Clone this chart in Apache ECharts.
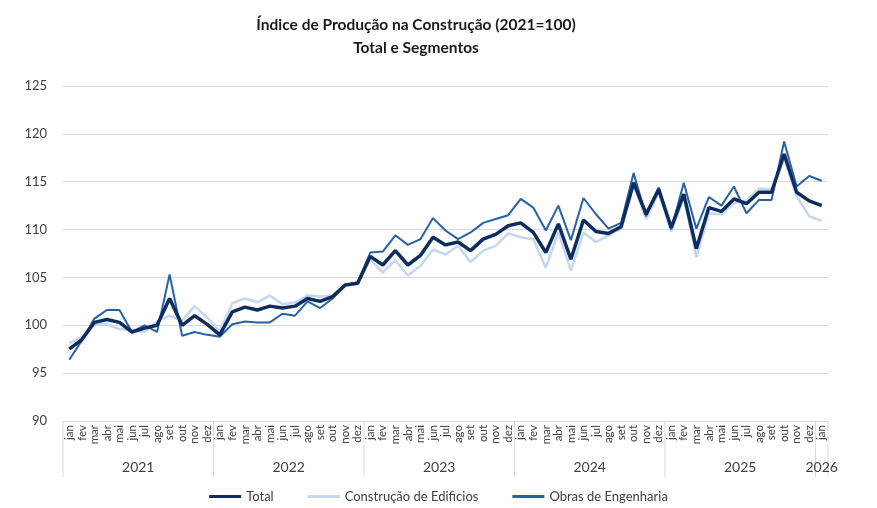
<!DOCTYPE html>
<html>
<head>
<meta charset="utf-8">
<script src="https://cdn.jsdelivr.net/npm/echarts@6/dist/echarts.min.js"></script>
<style>
html,body{margin:0;padding:0;background:#fff;}
#c{width:877px;height:508px;}
</style>
</head>
<body>
<div id="c"></div>
<script>
const monthNames = ['jan','fev','mar','abr','mai','jun','jul','ago','set','out','nov','dez'];
const years = ['2021','2022','2023','2024','2025','2026'];
const categories = [];
years.forEach(function(y){ monthNames.forEach(function(m, k){ if (y !== '2026' || k === 0) categories.push(y + '-' + m); }); });

const total = [
  97.5, 98.5, 100.3, 100.6, 100.3, 99.3, 99.7, 100.0, 102.8, 100.0, 101.0, 100.1,
  99.0, 101.4, 101.9, 101.6, 102.0, 101.8, 102.0, 102.8, 102.5, 103.0, 104.2, 104.4,
  107.2, 106.3, 107.8, 106.3, 107.3, 109.2, 108.4, 108.7, 107.8, 109.0, 109.5, 110.4,
  110.7, 109.7, 107.6, 110.6, 106.9, 111.0, 109.8, 109.6, 110.3, 114.9, 111.6, 114.2,
  110.2, 113.7, 108.0, 112.3, 111.9, 113.2, 112.7, 113.9, 113.9, 117.9, 113.9, 113.0,
  112.5
];
const edificios = [
  98.1, 98.8, 100.1, 100.1, 99.6, 99.5, 99.3, 100.4, 101.0, 100.5, 102.0, 100.8,
  99.4, 102.3, 102.8, 102.4, 103.1, 102.2, 102.4, 103.1, 103.0, 103.1, 104.2, 104.4,
  106.9, 105.5, 106.8, 105.2, 106.2, 107.9, 107.4, 108.3, 106.6, 107.8, 108.3, 109.6,
  109.2, 109.0, 106.0, 109.7, 105.7, 109.7, 108.7, 109.4, 110.1, 114.6, 111.1, 113.9,
  109.8, 113.4, 107.1, 111.7, 111.6, 112.8, 113.0, 114.3, 114.2, 117.4, 113.5, 111.4,
  110.9
];
const engenharia = [
  96.4, 98.4, 100.7, 101.6, 101.6, 99.3, 100.0, 99.3, 105.3, 98.9, 99.3, 99.0,
  98.8, 100.1, 100.4, 100.3, 100.3, 101.2, 101.0, 102.5, 101.8, 102.8, 104.2, 104.5,
  107.6, 107.7, 109.4, 108.4, 109.0, 111.2, 109.9, 109.0, 109.7, 110.7, 111.1, 111.5,
  113.2, 112.3, 109.9, 112.5, 108.9, 113.3, 111.6, 110.1, 110.7, 115.9, 111.4, 114.4,
  110.0, 114.9, 110.1, 113.4, 112.5, 114.5, 111.7, 113.1, 113.1, 119.2, 114.5, 115.6,
  115.1
];
const seriesNames = ['Total', 'Construção de Edificios', 'Obras de Engenharia'];
const yTicks = {min: 90, max: 125, interval: 5};

const FONT = 'Lato, "Open Sans", sans-serif';
const TXT = '#404040';
const GRID = '#d9d9d9';

const chart = echarts.init(document.getElementById('c'), null, {renderer: 'canvas'});
const option = {
  animation: false,
  backgroundColor: '#fff',
  textStyle: {fontFamily: FONT},
  title: {
    text: 'Índice de Produção na Construção (2021=100)\nTotal e Segmentos',
    left: 411, top: 8, textAlign: 'center',
    textStyle: {fontFamily: FONT, fontSize: 15.5, fontWeight: 'bold', color: '#1a1a1a', lineHeight: 23}
  },
  grid: {left: 63, right: 49, top: 86, bottom: 87, containLabel: false},
  legend: {
    left: 'center', top: 485,
    itemWidth: 32, itemHeight: 3, itemGap: 34, icon: 'rect',
    textStyle: {fontFamily: FONT, fontSize: 13, color: TXT},
    data: seriesNames
  },
  xAxis: {
    type: 'category', data: categories, boundaryGap: true,
    axisLine: {show: true, lineStyle: {color: GRID, width: 1}},
    axisTick: {show: false},
    axisLabel: {
      interval: 0, rotate: 90, margin: 4,
      fontFamily: FONT, fontSize: 11.5, color: TXT, lineHeight: 11,
      formatter: function(v){ return v.split('-')[1]; }
    },
    splitLine: {show: false}
  },
  yAxis: {
    type: 'value', min: yTicks.min, max: yTicks.max, interval: yTicks.interval,
    axisLine: {show: false}, axisTick: {show: false},
    axisLabel: {fontFamily: FONT, fontSize: 13, color: TXT, margin: 16},
    splitLine: {lineStyle: {color: GRID, width: 1}}
  },
  series: [
    {name: seriesNames[0], type: 'line', data: total, showSymbol: false, symbol: 'none', z: 5,
     lineStyle: {color: '#0e2d5e', width: 3.5}, itemStyle: {color: '#0e2d5e'}},
    {name: seriesNames[1], type: 'line', data: edificios, showSymbol: false, symbol: 'none', z: 3,
     lineStyle: {color: '#c3d7ee', width: 2.5}, itemStyle: {color: '#c3d7ee'}},
    {name: seriesNames[2], type: 'line', data: engenharia, showSymbol: false, symbol: 'none', z: 4,
     lineStyle: {color: '#2563a6', width: 2}, itemStyle: {color: '#2563a6'}}
  ]
};
chart.setOption(option);

// Year groups under the month labels, positioned via the axis scale
const xa = chart.convertToPixel({xAxisIndex: 0}, categories[0]);
const xb = chart.convertToPixel({xAxisIndex: 0}, categories[1]);
const bw = xb - xa;
const yBase = chart.convertToPixel({yAxisIndex: 0}, yTicks.min);
const elems = [];
years.forEach(function(y){
  const idx = categories.map(function(c, i){ return c.indexOf(y) === 0 ? i : -1; }).filter(function(i){ return i >= 0; });
  const s = idx[0], e = idx[idx.length - 1];
  const left = chart.convertToPixel({xAxisIndex: 0}, categories[s]) - bw / 2;
  const right = chart.convertToPixel({xAxisIndex: 0}, categories[e]) + bw / 2;
  elems.push({type: 'line', shape: {x1: left, y1: yBase, x2: left, y2: yBase + 56}, style: {stroke: GRID, lineWidth: 1}, silent: true});
  if (e === categories.length - 1) {
    elems.push({type: 'line', shape: {x1: right, y1: yBase, x2: right, y2: yBase + 56}, style: {stroke: GRID, lineWidth: 1}, silent: true});
  }
  elems.push({type: 'text', x: (left + right) / 2, y: yBase + 46,
    style: {text: y, fill: TXT, font: '14px ' + FONT, textAlign: 'center', textVerticalAlign: 'middle'}, silent: true});
});
chart.setOption({graphic: {elements: elems}});
</script>
</body>
</html>
